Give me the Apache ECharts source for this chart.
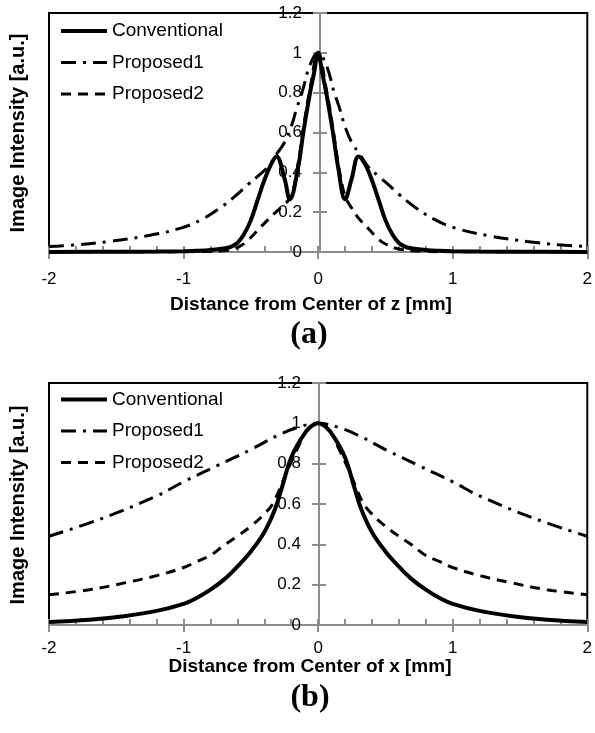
<!DOCTYPE html>
<html>
<head>
<meta charset="utf-8">
<script src="https://cdn.jsdelivr.net/npm/echarts@6/dist/echarts.min.js"></script>
<style>
  html, body { margin: 0; padding: 0; background: #fff; }
  #chart { width: 595px; height: 733px; }
</style>
</head>
<body>
<div id="chart"></div>
<script>
const names = ['Conventional', 'Proposed1', 'Proposed2'];
const yTicks = [0, 0.2, 0.4, 0.6, 0.8, 1, 1.2];

// (a) profile along z
const zConvX = [-2, -1.5, -1.2, -1, -0.9, -0.8, -0.7, -0.65, -0.6, -0.55, -0.5, -0.45, -0.4, -0.35, -0.31, -0.25, -0.21, -0.15, -0.11, -0.06, -0.03, 0, 0.03, 0.06, 0.11, 0.15, 0.2, 0.25, 0.3, 0.35, 0.4, 0.45, 0.5, 0.55, 0.6, 0.65, 0.7, 0.8, 0.9, 1, 1.2, 1.5, 2];
const zConvY = [0, 0.001, 0.002, 0.004, 0.006, 0.01, 0.018, 0.026, 0.045, 0.09, 0.16, 0.26, 0.36, 0.44, 0.48, 0.37, 0.265, 0.42, 0.6, 0.8, 0.9, 1, 0.9, 0.8, 0.6, 0.42, 0.265, 0.37, 0.48, 0.44, 0.36, 0.26, 0.16, 0.09, 0.045, 0.026, 0.018, 0.01, 0.006, 0.004, 0.002, 0.001, 0];
const zP1X = [-2, -1.79, -1.55, -1.28, -1.02, -0.86, -0.71, -0.6, -0.52, -0.45, -0.37, -0.3, -0.25, -0.2, -0.16, -0.12, -0.06, 0, 0.06, 0.12, 0.16, 0.2, 0.25, 0.3, 0.37, 0.45, 0.52, 0.6, 0.71, 0.86, 1.02, 1.28, 1.55, 1.79, 2];
const zP1Y = [0.028, 0.036, 0.053, 0.08, 0.12, 0.165, 0.23, 0.29, 0.34, 0.38, 0.43, 0.5, 0.55, 0.63, 0.72, 0.8, 0.94, 1, 0.94, 0.8, 0.72, 0.63, 0.55, 0.5, 0.43, 0.38, 0.34, 0.29, 0.23, 0.165, 0.12, 0.08, 0.053, 0.036, 0.028];
const zP2X = [-2, -1.5, -1, -0.8, -0.7, -0.6, -0.52, -0.42, -0.33, -0.25, -0.2, -0.15, -0.11, -0.06, 0, 0.06, 0.11, 0.15, 0.2, 0.25, 0.3, 0.37, 0.44, 0.5, 0.6, 0.7, 0.8, 1, 1.5, 2];
const zP2Y = [0, 0, 0.001, 0.003, 0.007, 0.022, 0.06, 0.13, 0.19, 0.24, 0.28, 0.44, 0.62, 0.82, 1, 0.82, 0.62, 0.44, 0.28, 0.22, 0.17, 0.12, 0.07, 0.04, 0.015, 0.006, 0.003, 0.001, 0, 0];

// (b) profile along x
const xConvX = [-2, -1.7, -1.43, -1.2, -1, -0.9, -0.8, -0.7, -0.6, -0.5, -0.4, -0.32, -0.27, -0.2, -0.12, -0.06, 0, 0.06, 0.12, 0.2, 0.27, 0.32, 0.4, 0.5, 0.6, 0.7, 0.8, 0.9, 1, 1.2, 1.43, 1.7, 2];
const xConvY = [0.015, 0.026, 0.045, 0.07, 0.105, 0.135, 0.175, 0.225, 0.29, 0.365, 0.46, 0.575, 0.68, 0.83, 0.93, 0.98, 1, 0.98, 0.93, 0.83, 0.68, 0.575, 0.46, 0.365, 0.29, 0.225, 0.175, 0.135, 0.105, 0.07, 0.045, 0.026, 0.015];
const xP1X = [-2, -1.6, -1.2, -1, -0.75, -0.5, -0.3, -0.15, 0, 0.15, 0.3, 0.5, 0.75, 1, 1.2, 1.6, 2];
const xP1Y = [0.44, 0.53, 0.64, 0.71, 0.79, 0.87, 0.94, 0.98, 1, 0.98, 0.94, 0.87, 0.79, 0.71, 0.64, 0.53, 0.44];
const xP2X = [-2, -1.7, -1.43, -1.2, -1, -0.9, -0.8, -0.7, -0.6, -0.5, -0.4, -0.33, -0.24, -0.15, -0.08, 0, 0.08, 0.15, 0.24, 0.33, 0.4, 0.5, 0.6, 0.7, 0.8, 0.9, 1, 1.2, 1.43, 1.7, 2];
const xP2Y = [0.15, 0.175, 0.21, 0.245, 0.285, 0.315, 0.345, 0.395, 0.44, 0.49, 0.55, 0.61, 0.75, 0.88, 0.97, 1, 0.97, 0.88, 0.75, 0.61, 0.55, 0.49, 0.44, 0.395, 0.345, 0.315, 0.285, 0.245, 0.21, 0.175, 0.15];

const pairs = (xs, ys) => xs.map((x, i) => [x, ys[i]]);

const sans = 'Liberation Sans, Arial, sans-serif';
const axisGray = '#8c8c8c';

const styles = [
  {width: 4, type: 'solid'},
  {width: 3, type: [15, 7, 3, 7]},
  {width: 3, type: [10, 7]},
];

const grids = [
  {left: 49, top: 13, width: 542, height: 239},
  {left: 49, top: 383, width: 540, height: 242},
];
const labelMargins = [19, 15];

function xAxes(g) {
  return [
    {
      gridIndex: g, type: 'value', min: -2, max: 2, interval: 1, position: 'bottom',
      axisLine: {onZero: false, lineStyle: {color: axisGray, width: 2}},
      axisTick: {length: 7, lineStyle: {color: axisGray, width: 2}},
      axisLabel: {color: '#000', fontSize: 17, fontFamily: sans, margin: labelMargins[g]},
      splitLine: {show: false},
    },
    {
      gridIndex: g, type: 'value', min: -2, max: 2, interval: 0.2, position: 'bottom',
      axisLine: {show: false, onZero: false},
      axisTick: {inside: true, length: 6, lineStyle: {color: axisGray, width: 2}},
      axisLabel: {show: false},
      splitLine: {show: false},
    },
  ];
}

// y axis sits on x = 0, i.e. half the grid width in from the left edge
function yAxes(g) {
  const shift = -grids[g].width / 2;
  return [
    {
      gridIndex: g, type: 'value', min: yTicks[0], max: yTicks[yTicks.length - 1], interval: 0.2,
      position: 'left', offset: shift,
      axisLine: {onZero: false, lineStyle: {color: axisGray, width: 2}},
      axisTick: {length: 7, lineStyle: {color: axisGray, width: 2}},
      axisLabel: {color: '#000', fontSize: 17, fontFamily: sans, margin: 18},
      splitLine: {show: false},
    },
    {
      gridIndex: g, type: 'value', min: yTicks[0], max: yTicks[yTicks.length - 1], interval: 0.2,
      position: 'left', offset: shift,
      axisLine: {show: false, onZero: false},
      axisTick: {inside: true, length: 7, lineStyle: {color: axisGray, width: 2}},
      axisLabel: {show: false},
      splitLine: {show: false},
    },
  ];
}

function lineSeries(g, idx, data) {
  return {
    name: names[idx], type: 'line', xAxisIndex: g * 2, yAxisIndex: g * 2,
    data: data, symbol: 'none', smooth: 0.4,
    lineStyle: {color: '#000', width: styles[idx].width, type: styles[idx].type},
    itemStyle: {color: '#000'},
    z: 5 - idx,
  };
}

function legend(top) {
  return {
    data: names.map((n, i) => ({
      name: n,
      lineStyle: {color: '#000', width: styles[i].width, type: styles[i].type},
    })),
    orient: 'vertical', left: 54, top: top,
    itemWidth: 46, itemHeight: 20, itemGap: 12.5,
    itemStyle: {color: 'rgba(0,0,0,0)', borderWidth: 0, opacity: 0},
    textStyle: {fontSize: 19, fontFamily: sans, color: '#000'},
    selectedMode: false,
  };
}

function label(text, x, y, font, rot) {
  return {
    type: 'text', x: x, y: y, rotation: rot || 0,
    style: {text: text, font: font, fill: '#000', align: 'center', verticalAlign: 'middle'},
  };
}

const chart = echarts.init(document.getElementById('chart'));
chart.setOption({
  animation: false,
  backgroundColor: '#fff',
  grid: grids.map(g => Object.assign({show: true, borderColor: '#000', borderWidth: 2, backgroundColor: 'transparent'}, g)),
  xAxis: xAxes(0).concat(xAxes(1)),
  yAxis: yAxes(0).concat(yAxes(1)),
  legend: [legend(16.5), legend(385)],
  series: [
    lineSeries(0, 0, pairs(zConvX, zConvY)),
    lineSeries(0, 1, pairs(zP1X, zP1Y)),
    lineSeries(0, 2, pairs(zP2X, zP2Y)),
    lineSeries(1, 0, pairs(xConvX, xConvY)),
    lineSeries(1, 1, pairs(xP1X, xP1Y)),
    lineSeries(1, 2, pairs(xP2X, xP2Y)),
  ],
  graphic: [
    label('Image Intensity [a.u.]', 18, 133, 'bold 20px ' + sans, Math.PI / 2),
    label('Distance from Center of z [mm]', 311, 305, 'bold 19px ' + sans),
    label('(a)', 309, 335, 'bold 32px Liberation Serif, Times New Roman, serif'),
    label('Image Intensity [a.u.]', 18, 505, 'bold 20px ' + sans, Math.PI / 2),
    label('Distance from Center of x [mm]', 310, 667, 'bold 19px ' + sans),
    label('(b)', 310, 698, 'bold 32px Liberation Serif, Times New Roman, serif'),
  ],
});
</script>
</body>
</html>
